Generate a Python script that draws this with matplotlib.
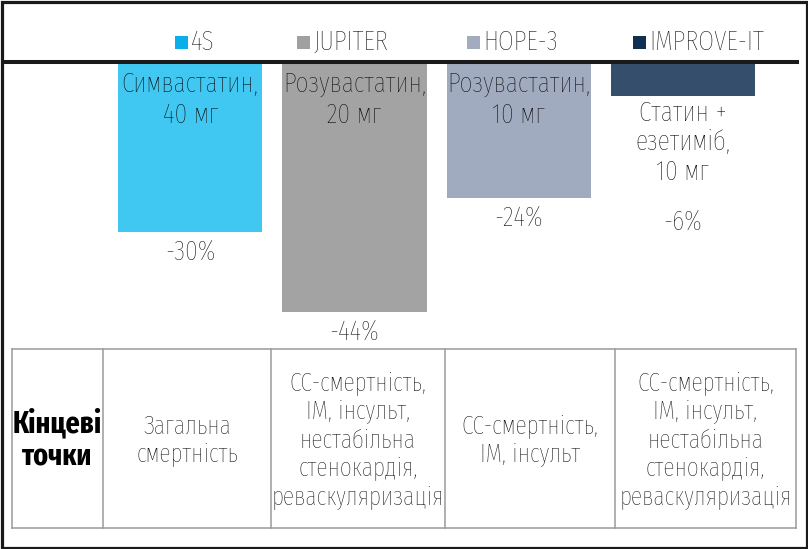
import matplotlib
matplotlib.use("Agg")
import matplotlib.pyplot as plt
from matplotlib.patches import Rectangle
from matplotlib.lines import Line2D

plt.rcParams['font.family'] = ['Fira Sans Extra Condensed', 'DejaVu Sans']
plt.rcParams['font.weight'] = 'light'

studies = ["4S", "JUPITER", "HOPE-3", "IMPROVE-IT"]
reductions = [-30, -44, -24, -6]
value_labels = ["-30%", "-44%", "-24%", "-6%"]
drug_labels = ["Симвастатин,\n40 мг", "Розувастатин,\n20 мг", "Розувастатин,\n10 мг",
               "Статин +\nезетиміб,\n10 мг"]
bar_colors = ["#40C8F2", "#A3A3A3", "#A1ABBF", "#344E6C"]
legend_colors = ["#0AAFEA", "#A0A0A0", "#A3ABBE", "#0E3152"]
row_header = "Кінцеві\nточки"
endpoints = ["Загальна\nсмертність",
             "СС-смертність,\nІМ, інсульт,\nнестабільна\nстенокардія,\nреваскуляризація",
             "СС-смертність,\nІМ, інсульт",
             "СС-смертність,\nІМ, інсульт,\nнестабільна\nстенокардія,\nреваскуляризація"]

W, H = 808, 549
FS = 20
FS_T = 18.5
TXT = '#0d0d0d'
fig = plt.figure(figsize=(W / 100, H / 100), dpi=100)

def fx(px):
    return px / W

def fy(py):
    return 1 - py / H

# main chart axes: pixel x 5..795, y 62..348
ax = fig.add_axes([fx(5), fy(348), fx(795) - fx(5), fy(62) - fy(348)])
ax.set_xlim(-1.128, 3.683)
ax.set_ylim(-50.4, 0)
ax.axis('off')
xs = list(range(len(studies)))
ax.bar(xs, reductions, width=0.878, color=bar_colors, zorder=2)

for i, (x, v) in enumerate(zip(xs, reductions)):
    if i < 3:
        ax.text(x, -1.5, drug_labels[i], ha='center', va='top', fontsize=FS,
                color=TXT, linespacing=1.22)
        ax.text(x, v - 1.4, value_labels[i], ha='center', va='top', fontsize=FS,
                color=TXT)
    else:
        ax.text(x, v - 0.6, drug_labels[i], ha='center', va='top', fontsize=FS,
                color=TXT, linespacing=1.15)
        ax.text(x, v - 20.0, value_labels[i], ha='center', va='top', fontsize=FS,
                color=TXT)

# top axis line
fig.add_artist(Line2D([fx(6), fx(797)], [fy(62), fy(62)], color='#1a1a1a', lw=2.9))

# legend
leg_sq_x = [175, 297, 467, 633]
for i, name in enumerate(studies):
    fig.add_artist(Rectangle((fx(leg_sq_x[i]), fy(48.5)), 13 / W, 13 / H,
                             facecolor=legend_colors[i], edgecolor='none'))
    fig.text(fx(leg_sq_x[i] + 16), fy(42), name, ha='left', va='center',
             fontsize=FS, color=TXT)

# table
col_x = [12, 103, 271, 445, 615, 796]
t_top, t_bot = 349, 528
tcol = '#9a9a9a'
fig.add_artist(Line2D([fx(col_x[0]), fx(col_x[-1])], [fy(t_top), fy(t_top)], color=tcol, lw=1.1))
fig.add_artist(Line2D([fx(col_x[0]), fx(col_x[-1])], [fy(t_bot), fy(t_bot)], color=tcol, lw=1.1))
for cx in col_x:
    fig.add_artist(Line2D([fx(cx), fx(cx)], [fy(t_top), fy(t_bot)], color=tcol, lw=1.1))
mid = (t_top + t_bot) / 2 + 2
fig.text(fx((col_x[0] + col_x[1]) / 2), fy(mid), row_header, ha='center', va='center',
         fontsize=22, fontweight='bold', color='#000000', linespacing=1.15)
for i, txt in enumerate(endpoints):
    fig.text(fx((col_x[i + 1] + col_x[i + 2]) / 2), fy(mid), txt, ha='center', va='center',
             fontsize=FS_T, color=TXT, linespacing=1.2)

# outer border
fig.add_artist(Rectangle((fx(1.5), fy(547.5)), fx(806.5) - fx(1.5), fy(1.5) - fy(547.5),
                         facecolor='none', edgecolor='#1a1a1a', lw=2.3))

fig.savefig("out.png", dpi=100)
